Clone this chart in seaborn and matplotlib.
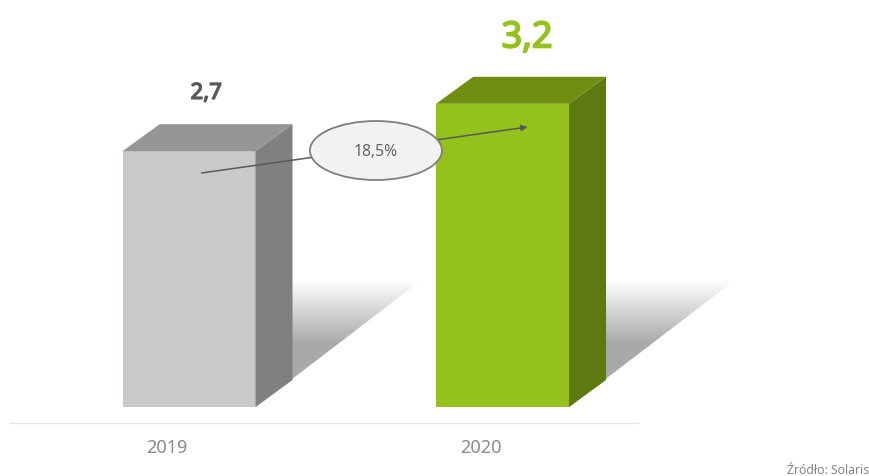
import numpy as np
import matplotlib
matplotlib.use('Agg')
import matplotlib.pyplot as plt
import matplotlib.patheffects as pe
import seaborn as sns
from matplotlib.colors import LinearSegmentedColormap
from matplotlib.patches import Ellipse, Polygon

years = ['2019', '2020']
values = [2.7, 3.2]
value_labels = ['2,7', '3,2']
change_label = '18,5%'
source_label = 'Źródło: Solaris'

front_colors = ['#c8cac9', '#94c11c']
top_colors = ['#969696', '#6f8e12']
side_colors = ['#808080', '#5d7a11']
value_colors = ['#595959', '#94c11c']
value_sizes = [16, 26]
value_strokes = [1.0, 1.3]

sns.set_theme(style='white')
plt.rcParams['font.family'] = ['Noto Sans', 'DejaVu Sans']

fig = plt.figure(figsize=(8.7, 4.77), dpi=100)
ax = fig.add_axes([0, 0, 1, 1])

sns.barplot(x=years, y=values, hue=years, palette=front_colors, legend=False,
            width=0.424, saturation=1, linewidth=0, ax=ax, zorder=3)

# scale: one category = 313.5 px, one unit = 94.75 px
xlim = (-0.603, 2.172)
ylim = (-0.728, 4.306)
dx = 37 / 313.5
dy = 27 / 94.75

# the shadow fades out upwards
shadow_top = 1.34
shadow_dx = 166 / 313.5
fade = LinearSegmentedColormap.from_list('fade', ['#a9a9a9', '#a9a9a9', '#ffffff'])
gradient = np.linspace(0, 1, 256).reshape(-1, 1)

bars = [p for p in ax.patches if p.get_height() > 0]
for i, bar in enumerate(bars):
    x0 = bar.get_x()
    x1 = x0 + bar.get_width()
    h = bar.get_height()

    # fake 3d faces
    ax.add_patch(Polygon([(x0, h), (x1, h), (x1 + dx, h + dy), (x0 + dx, h + dy)],
                         facecolor=top_colors[i], edgecolor='none', zorder=3))
    ax.add_patch(Polygon([(x1, 0), (x1 + dx, dy), (x1 + dx, h + dy), (x1, h)],
                         facecolor=side_colors[i], edgecolor='none', zorder=3))

    clip = Polygon([(x1, 0), (x1 + shadow_dx, shadow_top), (x1, shadow_top)],
                   transform=ax.transData, facecolor='none', edgecolor='none')
    ax.add_patch(clip)
    img = ax.imshow(gradient, extent=(x1, x1 + shadow_dx, 0, shadow_top), origin='lower',
                    cmap=fade, aspect='auto', zorder=1, vmin=0, vmax=1)
    img.set_clip_path(clip)

    # no bold face here, so thicken the value labels with a stroke
    label = ax.text(i + 0.055 + 0.023 * i, h + 0.61 + 0.08 * i, value_labels[i], color=value_colors[i],
                    fontsize=value_sizes[i], ha='center', va='center', zorder=5)
    label.set_path_effects([pe.withStroke(linewidth=value_strokes[i], foreground=value_colors[i])])

# arrow between the two bars, ellipse sits on top of it
ax.annotate('', xy=(1.08, 2.955), xytext=(0.04, 2.47), zorder=4,
            arrowprops=dict(arrowstyle='-|>', color='#595959', lw=1.1, shrinkA=0, shrinkB=0,
                            mutation_scale=9))
ax.add_patch(Ellipse((0.596, 2.707), 132 / 313.5, 59 / 94.75, facecolor='#f2f2f2',
                     edgecolor='#7f7f7f', lw=1.3, zorder=5))
ax.text(0.596, 2.707, change_label, color='#666666', fontsize=11.3, ha='center', va='center',
        zorder=6)

# baseline under the bars
ax.plot([-0.571, 1.433], [-0.169, -0.169], color='#e3e3e3', lw=1, zorder=1)

ax.set_xlim(xlim)
ax.set_ylim(ylim)
ax.set_xticks([i - 0.07 for i in range(len(years))], years)
ax.set_yticks([])
ax.tick_params(axis='x', length=0, labelsize=13, labelcolor='#8a8a8a', direction='in', pad=-27.5)
ax.set_xlabel('')
ax.set_ylabel('')
sns.despine(ax=ax, left=True, bottom=True)

fig.text(0.9985, 0.006, source_label, color='#858585', fontsize=8.8, ha='right', va='baseline')

fig.savefig('out.png', dpi=100)
